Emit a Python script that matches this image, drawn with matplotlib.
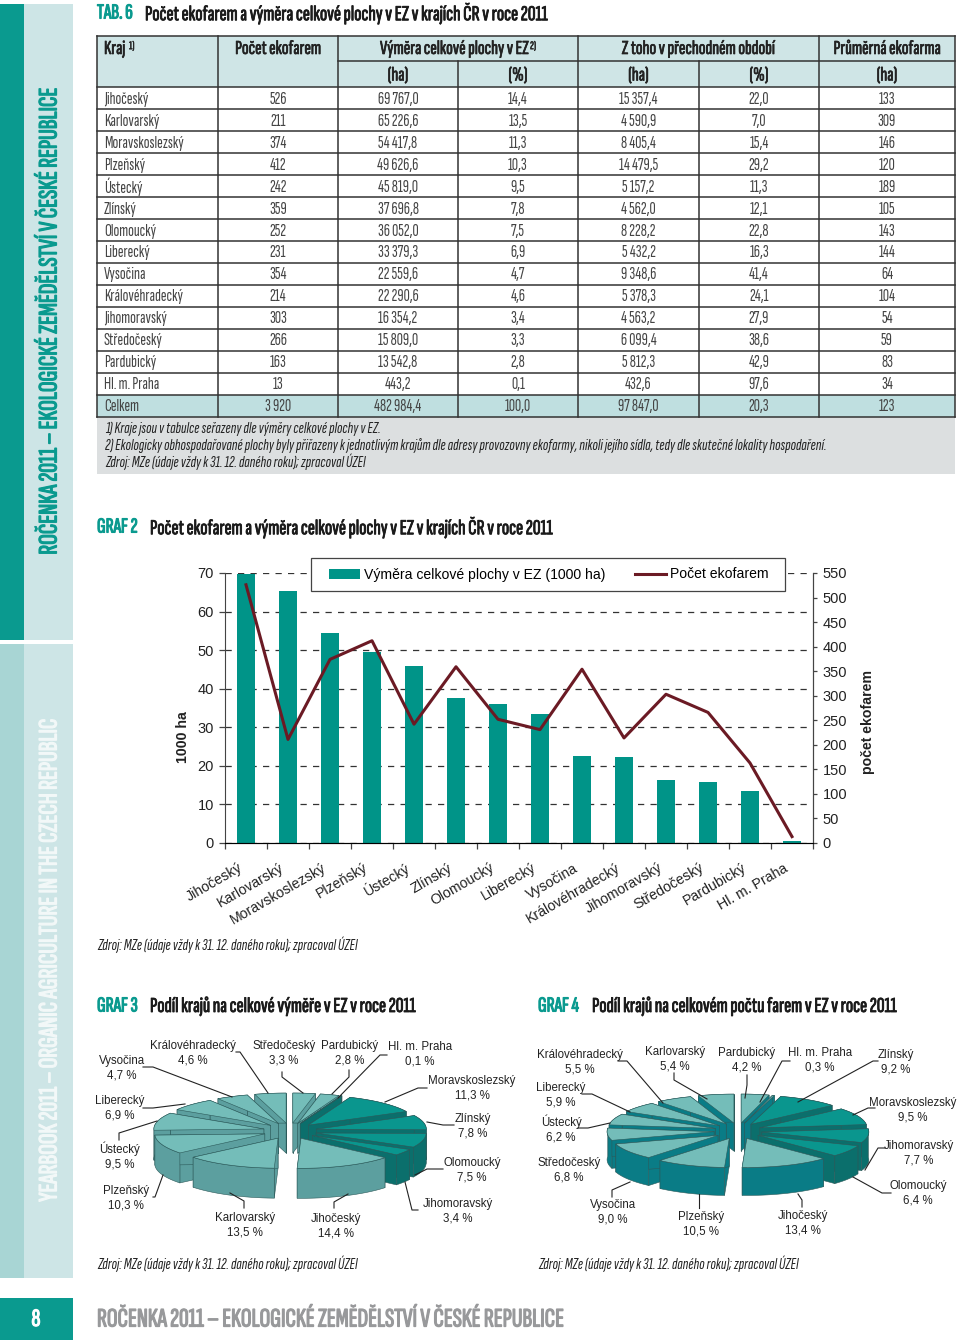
import numpy as np
import matplotlib
matplotlib.use('Agg')
import matplotlib.pyplot as plt
import matplotlib.patheffects as pe
from matplotlib.patches import Rectangle, Polygon
from matplotlib.lines import Line2D

NARROW = ['Sofia Sans Extra Condensed', 'Fira Sans Extra Condensed', 'Liberation Sans']
ARIAL = ['Liberation Sans', 'DejaVu Sans']

TEAL = '#0a9a8f'
DARK = '#222222'

# Tabulka
kraje = ['Jihočeský', 'Karlovarský', 'Moravskoslezský', 'Plzeňský', 'Ústecký', 'Zlínský', 'Olomoucký',
         'Liberecký', 'Vysočina', 'Královéhradecký', 'Jihomoravský', 'Středočeský', 'Pardubický', 'Hl. m. Praha']
pocet = [526, 211, 374, 412, 242, 359, 252, 231, 354, 214, 303, 266, 163, 13]
vymera = [69767.0, 65226.6, 54417.8, 49626.6, 45819.0, 37696.8, 36052.0, 33379.3, 22559.6, 22290.6,
          16354.2, 15809.0, 13542.8, 443.2]
vymera_pct = ['14,4', '13,5', '11,3', '10,3', '9,5', '7,8', '7,5', '6,9', '4,7', '4,6', '3,4', '3,3', '2,8', '0,1']
prechod = ['15 357,4', '4 590,9', '8 405,4', '14 479,5', '5 157,2', '4 562,0', '8 228,2', '5 432,2', '9 348,6',
           '5 378,3', '4 563,2', '6 099,4', '5 812,3', '432,6']
prechod_pct = ['22,0', '7,0', '15,4', '29,2', '11,3', '12,1', '22,8', '16,3', '41,4', '24,1', '27,9', '38,6',
               '42,9', '97,6']
prumer = [133, 309, 146, 120, 189, 105, 143, 144, 64, 104, 54, 59, 83, 34]
celkem = ['Celkem', '3 920', '482 984,4', '100,0', '97 847,0', '20,3', '123']

# Graf 3
g3_kraje = ['Středočeský', 'Pardubický', 'Hl. m. Praha', 'Moravskoslezský', 'Zlínský', 'Olomoucký', 'Jihomoravský',
            'Jihočeský', 'Karlovarský', 'Plzeňský', 'Ústecký', 'Liberecký', 'Vysočina', 'Královéhradecký']
g3_podil = [3.3, 2.8, 0.1, 11.3, 7.8, 7.5, 3.4, 14.4, 13.5, 10.3, 9.5, 6.9, 4.7, 4.6]

# Graf 4
g4_kraje = ['Pardubický', 'Hl. m. Praha', 'Zlínský', 'Moravskoslezský', 'Jihomoravský', 'Olomoucký', 'Jihočeský',
            'Plzeňský', 'Vysočina', 'Středočeský', 'Ústecký', 'Liberecký', 'Královéhradecký', 'Karlovarský']
g4_podil = [4.2, 0.3, 9.2, 9.5, 7.7, 6.4, 13.4, 10.5, 9.0, 6.8, 6.2, 5.9, 5.5, 5.4]

# popisky kolacu: stred textu a odkazova cara v pixelech stranky
g3_pos = [(284, 1053), (350, 1053), (420, 1054), (472, 1088), (473, 1126), (472, 1170), (458, 1211), (336, 1226),
          (245, 1225), (126, 1198), (120, 1156), (120, 1108), (122, 1068), (193, 1053)]
g3_lead = [[(282, 1072), (282, 1077), (303, 1093)], [(349, 1070), (349, 1077), (332, 1094)],
           [(387, 1055), (380, 1055), (338, 1098)], [(427, 1088), (418, 1088), (385, 1102)],
           [(454, 1125), (443, 1125), (427, 1122)], [(443, 1169), (427, 1169), (415, 1175)],
           [(418, 1210), (412, 1210), (405, 1182)], [(334, 1208), (334, 1202), (348, 1194)],
           [(244, 1208), (244, 1201), (230, 1193)], [(153, 1197), (155, 1197), (163, 1175)],
           [(119, 1140), (119, 1133), (157, 1121)], [(143, 1108), (153, 1108), (185, 1104)],
           [(143, 1067), (153, 1067), (232, 1097)], [(236, 1052), (240, 1052), (268, 1093)]]
g4_pos = [(747, 1060), (820, 1060), (896, 1062), (913, 1110), (919, 1153), (918, 1193), (803, 1223), (701, 1224),
          (613, 1212), (569, 1170), (561, 1129), (561, 1095), (580, 1062), (675, 1059)]
g4_lead = [[(747, 1075), (747, 1085), (745, 1098)], [(790, 1061), (782, 1061), (760, 1102)],
           [(878, 1061), (873, 1061), (798, 1102)], [(875, 1108), (868, 1108), (853, 1115)],
           [(885, 1148), (878, 1148), (865, 1170)], [(891, 1193), (882, 1193), (853, 1177)],
           [(802, 1207), (802, 1200), (798, 1194)], [(699, 1208), (699, 1194)],
           [(612, 1197), (612, 1190), (630, 1182)], None,
           [(578, 1128), (588, 1128), (610, 1123)], [(582, 1094), (592, 1094), (630, 1112)],
           [(618, 1061), (627, 1061), (663, 1103)], [(674, 1073), (674, 1080), (707, 1099)]]

fig = plt.figure(figsize=(9.6, 13.42), dpi=100)
bg = fig.add_axes([0, 0, 1, 1])
bg.set_xlim(0, 960)
bg.set_ylim(1342, 0)
bg.axis('off')


def box(x0, y0, x1, y1, color, z=1):
    bg.add_patch(Rectangle((x0, y0), x1 - x0, y1 - y0, facecolor=color, edgecolor='none', zorder=z))


def txt(x, y, s, size=10.5, color=DARK, ha='left', tucne=0, **kw):
    t = bg.text(x, y, s, fontsize=size, color=color, ha=ha, va='center', family=NARROW, zorder=5, **kw)
    # pismo nema tucny rez, zesilime ho obrysem
    if tucne:
        t.set_path_effects([pe.withStroke(linewidth=tucne, foreground=color)])


def nadpis(x0, x1, y, tag, title):
    txt(x0, y, tag, 15.4, TEAL, tucne=0.8)
    txt(x1, y, title, 15.4, '#1a1a1a', tucne=0.6)


# Bocni pruh
box(0, 4, 24, 640, TEAL)
box(24, 4, 73, 640, '#cde5e6')
box(0, 644, 24, 1278, '#a8d5d4')
box(24, 644, 73, 1278, '#cde5e6')
box(0, 1298, 73, 1340, TEAL)
txt(36, 1320, '8', 18, 'white', ha='center', tucne=0.9)
txt(50, 321, 'ROČENKA 2011 – EKOLOGICKÉ ZEMĚDĚLSTVÍ V ČESKÉ REPUBLICE', 19.2, TEAL, ha='center', rotation=90,
    tucne=0.9)
txt(50, 960, 'YEARBOOK 2011 – ORGANIC AGRICULTURE IN THE CZECH REPUBLIC', 19.2, '#f2f8f8', ha='center', rotation=90,
    tucne=0.9)
txt(97, 1320, 'ROČENKA 2011 – EKOLOGICKÉ ZEMĚDĚLSTVÍ V ČESKÉ REPUBLICE', 19.2, '#98999b', tucne=0.9)

nadpis(97, 145, 13, 'TAB. 6', 'Počet ekofarem a výměra celkové plochy v EZ v krajích ČR v roce 2011')

# Tabulka - mrizka
cols = [97, 218, 338, 458, 578, 699, 819, 955]
top, split, head, row_h = 36, 60.5, 87, 21.97
bottom = head + row_h * 15
box(97, top, 955, head, '#cfe5e6')
box(97, bottom - row_h, 955, bottom, '#bfdfe0')
box(97, bottom, 955, 474, '#dcdfe0')
line = dict(color='#333333', lw=1.1, zorder=4)
for x in cols:
    y0 = split if x in (458, 699) else top
    bg.plot([x, x], [y0, bottom], **line)
bg.plot([97, 955], [top, top], **line)
bg.plot([338, 955], [split, split], **line)
for i in range(16):
    bg.plot([97, 955], [head + i * row_h] * 2, **line)

HEAD = 14.3
BODY = 12.5
txt(104, 49, 'Kraj', HEAD, tucne=0.5)
txt(129, 46, '1)', 8.5, tucne=0.3)
txt(278, 49, 'Počet ekofarem', HEAD, ha='center', tucne=0.5)
txt(380, 49, 'Výměra celkové plochy v EZ', HEAD, tucne=0.5)
txt(530, 46, '2)', 8.5, tucne=0.3)
txt(698, 49, 'Z toho v přechodném období', HEAD, ha='center', tucne=0.5)
txt(887, 49, 'Průměrná ekofarma', HEAD, ha='center', tucne=0.5)
sub = ['(ha)', '(%)', '(ha)', '(%)', '(ha)']
for j, s in enumerate(sub):
    txt((cols[j + 2] + cols[j + 3]) / 2, 75.5, s, HEAD, ha='center', tucne=0.5)


def cesky(v):
    s = f'{v:,.1f}'.replace(',', ' ').replace('.', ',')
    return s


for i, kraj in enumerate(kraje):
    y = head + (i + 0.5) * row_h + 1.2
    radek = [str(pocet[i]), cesky(vymera[i]), vymera_pct[i], prechod[i], prechod_pct[i], str(prumer[i])]
    txt(104, y, kraj, BODY, '#444444')
    for j, s in enumerate(radek):
        txt((cols[j + 1] + cols[j + 2]) / 2, y, s, BODY, '#444444', ha='center')
y = head + 14.5 * row_h + 1.2
txt(104, y, celkem[0], BODY, '#444444')
for j, s in enumerate(celkem[1:]):
    txt((cols[j + 1] + cols[j + 2]) / 2, y, s, BODY, '#444444', ha='center')

NOTE = 11.8
txt(105, 429, '1) Kraje jsou v tabulce seřazeny dle výměry celkové plochy v EZ.', NOTE, style='italic')
txt(105, 446, '2) Ekologicky obhospodařované plochy byly přiřazeny k jednotlivým krajům dle adresy provozovny ekofarmy, '
    'nikoli jejího sídla, tedy dle skutečné lokality hospodaření.', NOTE, style='italic')
txt(105, 462, 'Zdroj: MZe (údaje vždy k 31. 12. daného roku); zpracoval ÚZEI', NOTE, style='italic')

nadpis(97, 150, 527, 'GRAF 2', 'Počet ekofarem a výměra celkové plochy v EZ v krajích ČR v roce 2011')
nadpis(97, 150, 1006, 'GRAF 3', 'Podíl krajů na celkové výměře v EZ v roce 2011')
nadpis(538, 592, 1006, 'GRAF 4', 'Podíl krajů na celkovém počtu farem v EZ v roce 2011')
zdroj = 'Zdroj: MZe (údaje vždy k 31. 12. daného roku); zpracoval ÚZEI'
txt(97, 945, zdroj, NOTE, style='italic')
txt(97, 1264, zdroj, NOTE, style='italic')
txt(538, 1264, zdroj, NOTE, style='italic')

# Graf 2
ax = fig.add_axes([225 / 960, 1 - 843 / 1342, 588 / 960, 270 / 1342])
ax.patch.set_alpha(0)
x = np.arange(14) + 0.5
ax.bar(x, np.array(vymera) / 1000, width=0.41, color='#009488', zorder=2)
ax.set_xlim(0, 14)
ax.set_ylim(0, 70)
ax.set_yticks(range(0, 71, 10))
ax.set_xticks(range(15))
ax.set_xticklabels([])
ax.grid(axis='y', color='#333333', linestyle=(0, (5, 5)), lw=0.9, zorder=1)
ax.set_axisbelow(True)
ax.spines['top'].set_visible(False)
ax.tick_params(axis='y', labelsize=10.5, length=4, width=0.9, color='#444444', labelcolor=DARK, pad=4)
ax.tick_params(axis='x', length=4, width=0.9, color='#444444')
for t in ax.get_yticklabels():
    t.set_family(ARIAL)
for s in ax.spines.values():
    s.set_color('#444444')

ax2 = ax.twinx()
ax2.plot(x, pocet, color='#6b1a24', lw=2.2, zorder=3)
ax2.set_ylim(0, 550)
ax2.set_yticks(range(0, 551, 50))
ax2.spines['top'].set_visible(False)
ax2.spines['right'].set_color('#444444')
ax2.spines['left'].set_visible(False)
ax2.tick_params(axis='y', labelsize=10.5, length=3, width=0.9, color='#444444', labelcolor=DARK, pad=4)
for t in ax2.get_yticklabels():
    t.set_family(ARIAL)

# ramecek legendy je vetsi nez jeji obsah
ax2.add_patch(Rectangle((311, 558), 474, 33, transform=bg.transData, facecolor='white', edgecolor='#444444', lw=0.9,
                        clip_on=False, zorder=9))
handles = [Rectangle((0, 0), 1, 1, facecolor='#009488'), Line2D([], [], color='#6b1a24', lw=2.2)]
leg = ax2.legend(handles, ['Výměra celkové plochy v EZ (1000 ha)', 'Počet ekofarem'], ncol=2,
                 loc='center left', bbox_to_anchor=((329 - 225) / 588, (843 - 574.5) / 270),
                 borderaxespad=0, borderpad=0, frameon=False, prop={'family': ARIAL, 'size': 10.1},
                 handlelength=2.2, handletextpad=0.3, columnspacing=2.1)
leg.set_zorder(10)

fig.text(183 / 960, 1 - 737 / 1342, '1000 ha', rotation=90, fontsize=10.2, fontweight='bold', ha='center', va='center',
         family=ARIAL, color=DARK)
fig.text(868 / 960, 1 - 722 / 1342, 'počet ekofarem', rotation=90, fontsize=10.2, fontweight='bold', ha='center',
         va='center', family=ARIAL, color=DARK)
for i, kraj in enumerate(kraje):
    bg.text(225 + 42 * (i + 0.5) - 5, 867, kraj, rotation=30, rotation_mode='anchor', ha='right', va='center',
            fontsize=10.2, family=ARIAL, color=DARK, zorder=5)


# Kolacove grafy
def kolac(cx, cy, rx, ry, hloubka, ex, ey, podil, top_col, side_col):
    podil = np.array(podil, dtype=float)
    hrany = np.concatenate([[0], np.cumsum(podil)]) / podil.sum() * 2 * np.pi
    stredy = (hrany[:-1] + hrany[1:]) / 2
    poradi = np.argsort(-np.cos(stredy))
    for i in poradi:
        a = np.linspace(hrany[i], hrany[i + 1], 40)
        ox = cx + ex * np.sin(stredy[i])
        oy = cy - ey * np.cos(stredy[i])
        rim = np.column_stack([ox + rx * np.sin(a), oy - ry * np.cos(a)])
        apex = np.array([ox, oy])
        d = np.array([0, hloubka])
        kw = dict(edgecolor='#2c5a5a', linewidth=0.4, zorder=3, joinstyle='round')
        # radialni steny, pak obvod, nakonec vrch
        bg.add_patch(Polygon([apex, rim[0], rim[0] + d, apex + d], facecolor=side_col[i], **kw))
        bg.add_patch(Polygon([apex, rim[-1], rim[-1] + d, apex + d], facecolor=side_col[i], **kw))
        bg.add_patch(Polygon(np.vstack([rim, (rim + d)[::-1]]), facecolor=side_col[i], **kw))
        bg.add_patch(Polygon(np.vstack([[apex], rim]), facecolor=top_col[i], **kw))


def popisky(nazvy, podil, pozice, cary):
    for n, p, (lx, ly), c in zip(nazvy, podil, pozice, cary):
        hodnota = f'{p:.1f}'.replace('.', ',')
        bg.text(lx, ly, f'{n}\n{hodnota} %', ha='center', va='center', fontsize=8.3, family=ARIAL,
                color=DARK, linespacing=1.25, zorder=6)
        if c is not None:
            bg.plot([q[0] for q in c], [q[1] for q in c], color='#222222', lw=0.8, zorder=6)


LIGHT, LIGHT_SIDE, STRONG, STRONG_SIDE, BLUE_SIDE = '#74bdb9', '#5c9f9f', '#0a968e', '#0b6f6c', '#0a7c86'
tmave3 = {'Moravskoslezský', 'Zlínský', 'Olomoucký', 'Jihomoravský', 'Hl. m. Praha'}
kolac(290, 1131, 110, 30, 30, 27, 8, g3_podil, [STRONG if k in tmave3 else LIGHT for k in g3_kraje],
      [STRONG_SIDE if k in tmave3 else LIGHT_SIDE for k in g3_kraje])
popisky(g3_kraje, g3_podil, g3_pos, g3_lead)

tmave4 = {'Zlínský', 'Moravskoslezský', 'Jihomoravský', 'Olomoucký'}
kolac(738, 1131, 107, 29, 28, 24, 8, g4_podil, [STRONG if k in tmave4 else LIGHT for k in g4_kraje],
      [STRONG_SIDE if k in tmave4 else BLUE_SIDE for k in g4_kraje])
popisky(g4_kraje, g4_podil, g4_pos, g4_lead)

fig.savefig('out.png', dpi=100)
